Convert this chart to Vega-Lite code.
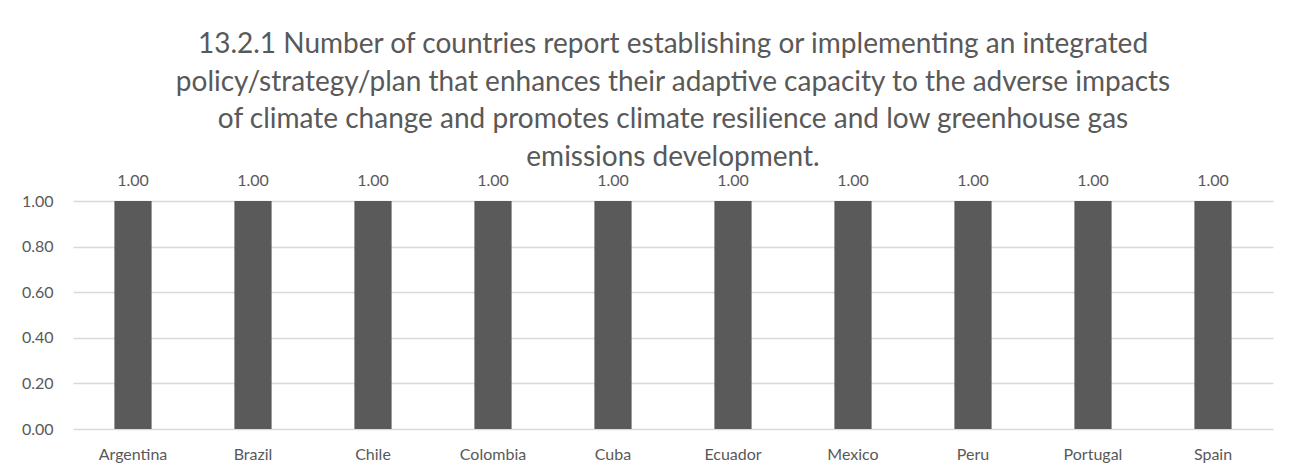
{
  "$schema": "https://vega.github.io/schema/vega-lite/v6.json",
  "autosize": "none",
  "width": 1200,
  "height": 228,
  "padding": {"left": 73, "top": 201, "right": 23, "bottom": 46},
  "background": "white",
  "title": {
    "text": [
      "13.2.1 Number of countries report establishing or implementing an integrated",
      "policy/strategy/plan that enhances their adaptive capacity to the adverse impacts",
      "of climate change and promotes climate resilience and low greenhouse gas",
      "emissions development."
    ],
    "anchor": "middle",
    "frame": "group",
    "font": "Lato",
    "fontSize": 28,
    "fontWeight": "normal",
    "color": "#595959",
    "lineHeight": 37.7,
    "offset": 1
  },
  "data": {
    "values": [
      {"country": "Argentina", "value": 1},
      {"country": "Brazil", "value": 1},
      {"country": "Chile", "value": 1},
      {"country": "Colombia", "value": 1},
      {"country": "Cuba", "value": 1},
      {"country": "Ecuador", "value": 1},
      {"country": "Mexico", "value": 1},
      {"country": "Peru", "value": 1},
      {"country": "Portugal", "value": 1},
      {"country": "Spain", "value": 1}
    ]
  },
  "encoding": {
    "x": {
      "field": "country",
      "type": "nominal",
      "sort": null,
      "scale": {"paddingInner": 0.69, "paddingOuter": 0.345},
      "axis": {
        "title": null,
        "labelAngle": 0,
        "domain": false,
        "ticks": false,
        "labelPadding": 17,
        "labelFont": "Lato",
        "labelFontSize": 16,
        "labelColor": "#595959"
      }
    },
    "y": {
      "field": "value",
      "type": "quantitative",
      "scale": {"domain": [0, 1]},
      "axis": {
        "title": null,
        "values": [0, 0.2, 0.4, 0.6, 0.8, 1.0],
        "format": ".2f",
        "domain": false,
        "ticks": false,
        "labelPadding": 20,
        "labelFont": "Lato",
        "labelFontSize": 16,
        "labelColor": "#595959",
        "gridColor": "#d9d9d9",
        "gridWidth": 1.5
      }
    }
  },
  "layer": [
    {"mark": {"type": "bar", "color": "#5a5a5a"}},
    {
      "mark": {"type": "text", "baseline": "bottom", "dy": -12, "font": "Lato", "fontSize": 16, "color": "#595959"},
      "encoding": {"text": {"field": "value", "type": "quantitative", "format": ".2f"}}
    }
  ],
  "config": {"view": {"stroke": null}}
}
